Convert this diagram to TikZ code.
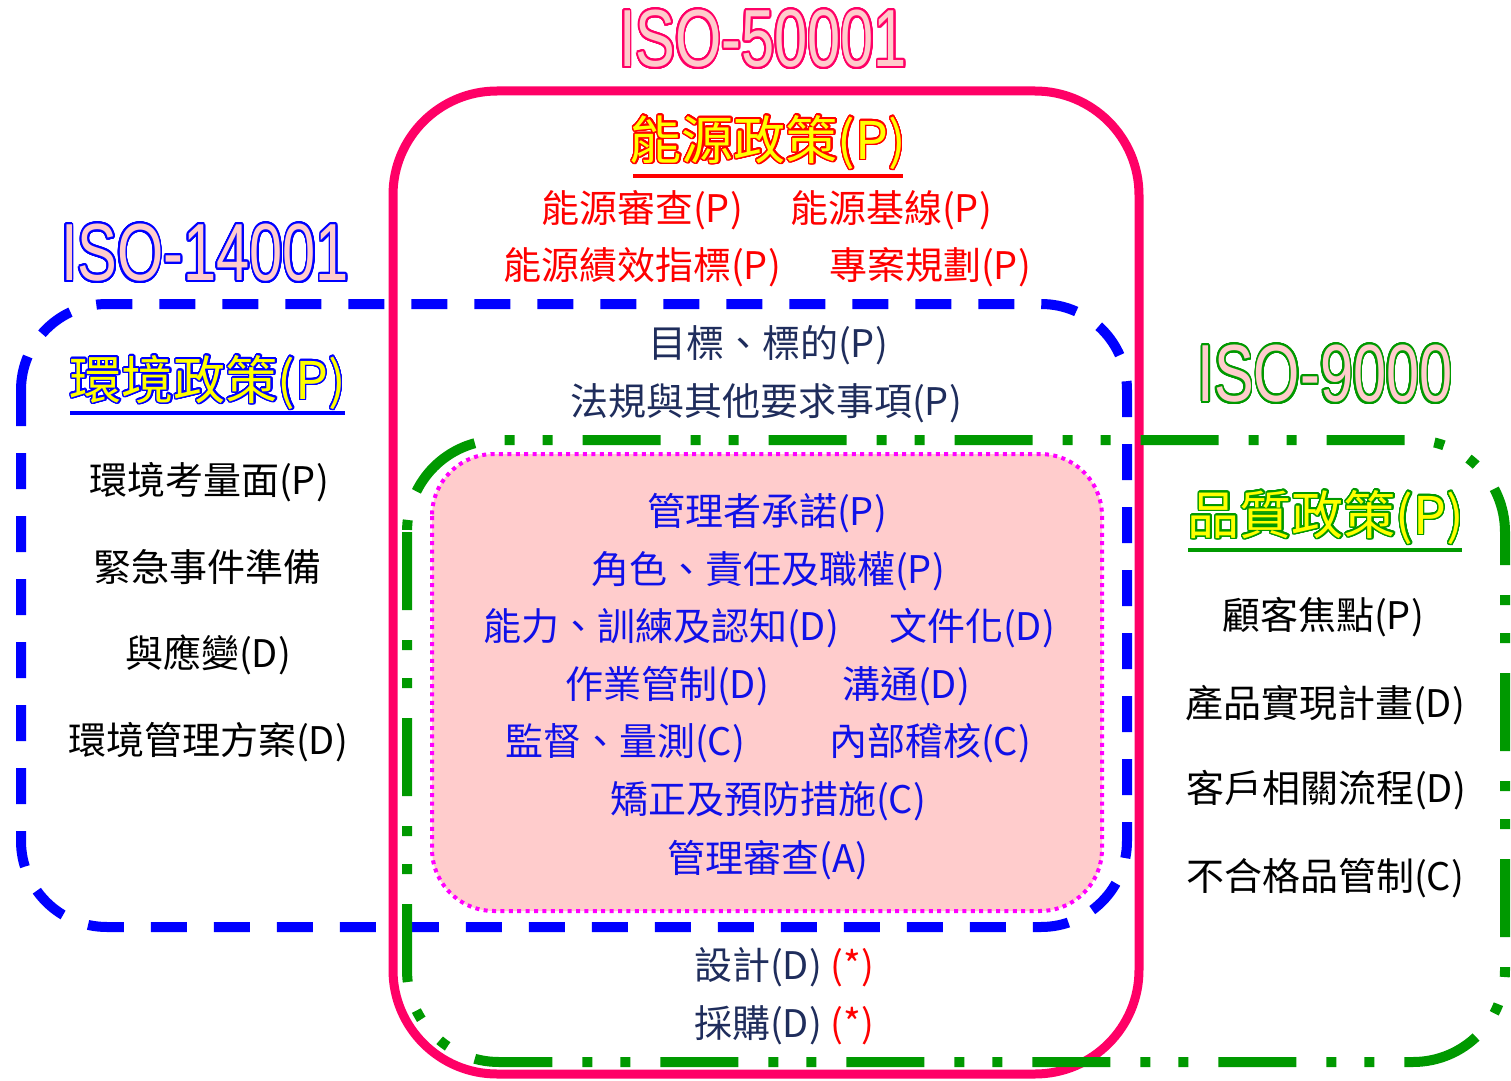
\documentclass[tikz,border=0pt]{standalone}
\usepackage{fontspec}
\usepackage{graphicx}
\usepackage{contour}
\setmainfont{Liberation Sans}
\newfontfamily\cjk{Noto Sans CJK TC}
\definecolor{isored}{HTML}{FF0066}
\definecolor{isoblue}{HTML}{0000FF}
\definecolor{isogreen}{HTML}{009900}
\definecolor{titlepink}{HTML}{FFCCCC}
\definecolor{pinkfill}{HTML}{FFCCCC}
\definecolor{dotmag}{HTML}{FF00FF}
\definecolor{navy}{HTML}{1F2D5C}
\definecolor{txtred}{HTML}{FF0000}
\definecolor{inblue}{HTML}{1010E8}
\definecolor{headyellow}{HTML}{FFFF00}
\contournumber{32}
\newcommand{\isotitle}[2]{\scalebox{0.735}[1]{\contourlength{1.1pt}\contour{#1}{\textcolor{titlepink}{\fontsize{40.5pt}{44pt}\selectfont #2}}}}
\newcommand{\headtxt}[2]{\contourlength{0.7pt}\contour{#1}{\textcolor{headyellow}{#2}}}
\begin{document}
\begin{tikzpicture}[x=0.5pt,y=-0.5pt,
  txt/.style={inner sep=0pt, font=\cjk\fontsize{19pt}{22pt}\selectfont},
  headt/.style={inner sep=0pt, font=\cjk\fontsize{26pt}{30pt}\selectfont},
  titlet/.style={inner sep=0pt},
  redbox/.style={draw=isored, line width=4.5pt, rounded corners=52pt},
  bluebox/.style={draw=isoblue, line width=5pt, dash pattern=on 18pt off 13.5pt, rounded corners=43pt},
  greenbox/.style={draw=isogreen, line width=5pt, dash pattern=on 39pt off 15pt on 5pt off 14pt on 5pt off 15pt, rounded corners=46pt},
  pinkbox/.style={fill=pinkfill, draw=dotmag, line width=2pt, dash pattern=on 2pt off 2.2pt, rounded corners=31pt},
  uline/.style={line width=2pt}]
\useasboundingbox (0,0) rectangle (1511,1081);

% boxes
\path[pinkbox] (432,454) rectangle (1102,911);
\path[redbox] (393,91) rectangle (1139,1074);
\path[bluebox] (21,304) rectangle (1127,927);
\path[greenbox] (407,440) rectangle (1505,1062);

% titles
\node[titlet] (t50) at (763,40) {\isotitle{isored}{ISO-50001}};
\node[titlet] (t14) at (205,254) {\isotitle{isoblue}{ISO-14001}};
\node[titlet] (t90) at (1325,375) {\isotitle{isogreen}{ISO-9000}};

% headings
\node[headt] (h50) at (768,143) {\headtxt{txtred}{能源政策(P)}};
\draw[uline, draw=txtred] (633,176) -- (903,176);
\node[headt] (h14) at (208,383) {\headtxt{isoblue}{環境政策(P)}};
\draw[uline, draw=isoblue] (70,413) -- (345,413);
\node[headt] (h90) at (1326,518) {\headtxt{isogreen}{品質政策(P)}};
\draw[uline, draw=isogreen] (1188,550) -- (1462,550);

% energy items
\node[txt, text=txtred] (e1) at (642,210) {能源審查(P)};
\node[txt, text=txtred] (e2) at (891,210) {能源基線(P)};
\node[txt, text=txtred] (e3) at (642,267) {能源績效指標(P)};
\node[txt, text=txtred] (e4) at (930,267) {專案規劃(P)};

% shared 14001/50001
\node[txt, text=navy] (s1) at (768,345) {目標、標的(P)};
\node[txt, text=navy] (s2) at (766,403) {法規與其他要求事項(P)};

% common core
\node[txt, text=inblue] (c1) at (767,513) {管理者承諾(P)};
\node[txt, text=inblue] (c2) at (768,571) {角色、責任及職權(P)};
\node[txt, text=inblue] (c3) at (661,628) {能力、訓練及認知(D)};
\node[txt, text=inblue] (c4) at (972,628) {文件化(D)};
\node[txt, text=inblue] (c5) at (667,686) {作業管制(D)};
\node[txt, text=inblue] (c6) at (906,686) {溝通(D)};
\node[txt, text=inblue] (c7) at (625,743) {監督、量測(C)};
\node[txt, text=inblue] (c8) at (930,743) {內部稽核(C)};
\node[txt, text=inblue] (c9) at (768,801) {矯正及預防措施(C)};
\node[txt, text=inblue] (c10) at (768,860) {管理審查(A)};

% 9000/50001
\node[txt, text=navy] (d1) at (784,967) {設計(D) \textcolor{txtred}{(*)}};
\node[txt, text=navy] (d2) at (784,1025) {採購(D) \textcolor{txtred}{(*)}};

% left
\node[txt] (l1) at (209,482) {環境考量面(P)};
\node[txt] (l2) at (207,567) {緊急事件準備};
\node[txt] (l3) at (208,655) {與應變(D)};
\node[txt] (l4) at (208,742) {環境管理方案(D)};

% right
\node[txt] (r1) at (1323,617) {顧客焦點(P)};
\node[txt] (r2) at (1325,705) {產品實現計畫(D)};
\node[txt] (r3) at (1326,790) {客戶相關流程(D)};
\node[txt] (r4) at (1325,878) {不合格品管制(C)};
\end{tikzpicture}
\end{document}
